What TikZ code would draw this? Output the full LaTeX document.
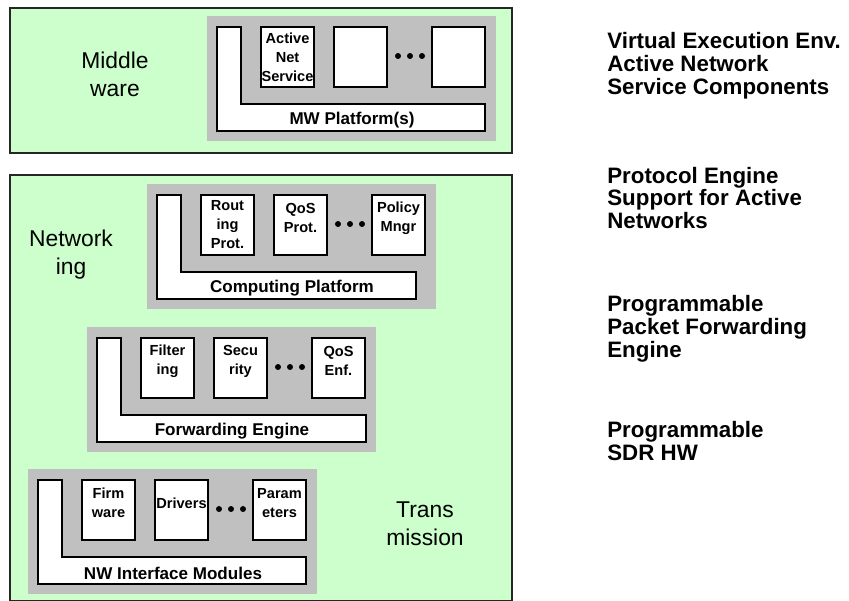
\documentclass[tikz,border=0pt]{standalone}
\usepackage{fontspec}
\setmainfont{Liberation Sans}
\usetikzlibrary{positioning}

\definecolor{layergreen}{HTML}{CCFFCC}
\definecolor{panelgray}{HTML}{C0C0C0}

\tikzset{
  layer/.style={draw=black!85, line width=0.8pt, fill=layergreen},
  panel/.style={fill=panelgray},
  platform/.style={draw, line width=0.6pt, fill=white},
  comp/.style={draw, line width=0.6pt, fill=white, inner sep=0pt,
    minimum width=1.06cm, minimum height=1.2cm,
    font=\bfseries\fontsize{8.3}{10.8}\selectfont},
  bartext/.style={font=\bfseries\fontsize{9.7}{12}\selectfont},
  layertext/.style={align=center, font=\fontsize{13}{16}\selectfont},
  sidetext/.style={anchor=west, align=left, inner sep=0pt,
    font=\bfseries\fontsize{12.7}{13}\selectfont}
}

% text of a component box, optionally raised
\newcommand{\boxtxt}[2][0pt]{\parbox[c][1.2cm][c]{1.06cm}{\centering #2\par\vspace{#1}}}

% gray panel with its L-shaped platform and the dots
\newcommand{\stackbase}[3]{%
  \fill[panel] (0,0) rectangle (289,125);
  \draw[platform] (10,11) -- (34,11) -- (34,88) -- (#1,88) -- (#1,115) -- (10,115) -- cycle;
  \node[bartext] (#2) at (145,104) {#3};
  \foreach \i in {-12,0,12} \fill (203+\i,40) circle[radius=1.7pt];
}

\begin{document}
\begin{tikzpicture}[x=0.02cm, y=-0.02cm]
  \useasboundingbox (0,0) rectangle (849,600);

  % layers
  \draw[layer] (10,8) rectangle (512,153);
  \draw[layer] (10,175) rectangle (512,601);
  \node[layertext] (mwlabel) at (115,74) {Middle\\ware};
  \node[layertext] (netlabel) at (71,255) {Network\\ing};
  \node[layertext] (trlabel) at (425,524) {Trans\\mission};

  % middleware
  \begin{scope}[shift={(207,16)}]
    \stackbase{278}{mwp}{MW Platform(s)}
    \node[comp] (ans) at (80.5,41) {\boxtxt{Active\\Net\\Service}};
    \node[comp] (mwb) at (153.5,41) {};
    \node[comp] (mwc) at (251.5,41) {};
  \end{scope}

  % computing platform
  \begin{scope}[shift={(147,184)}]
    \stackbase{269}{cp}{Computing Platform}
    \node[comp] (rout) at (80.5,41) {\boxtxt{Rout\\ing\\Prot.}};
    \node[comp] (qosp) at (153.5,41) {\boxtxt[8pt]{QoS\\Prot.}};
    \node[comp] (pol) at (251.5,41) {\boxtxt[8pt]{Policy\\Mngr}};
  \end{scope}

  % forwarding engine
  \begin{scope}[shift={(87,327)}]
    \stackbase{279}{fe}{Forwarding Engine}
    \node[comp] (filt) at (80.5,41) {\boxtxt[8pt]{Filter\\ing}};
    \node[comp] (sec) at (153.5,41) {\boxtxt[8pt]{Secu\\rity}};
    \node[comp] (qose) at (251.5,41) {\boxtxt[8pt]{QoS\\Enf.}};
  \end{scope}

  % interface modules
  \begin{scope}[shift={(28,469)}]
    \stackbase{278}{nwi}{NW Interface Modules}
    \node[comp] (firm) at (80.5,41) {\boxtxt[8pt]{Firm\\ware}};
    \node[comp] (drv) at (153.5,41) {\boxtxt[8pt]{Drivers}};
    \node[comp] (par) at (251.5,41) {\boxtxt[8pt]{Param\\eters}};
  \end{scope}

  % descriptions
  \node[sidetext] (side1) at (607,66) {Virtual Execution Env.\\Active Network\\Service Components};
  \node[sidetext] (side2) at (607,198) {Protocol Engine\\Support for Active\\Networks};
  \node[sidetext] (side3) at (607,329) {Programmable\\Packet Forwarding\\Engine};
  \node[sidetext] (side4) at (607,441) {Programmable\\SDR HW};
\end{tikzpicture}
\end{document}
